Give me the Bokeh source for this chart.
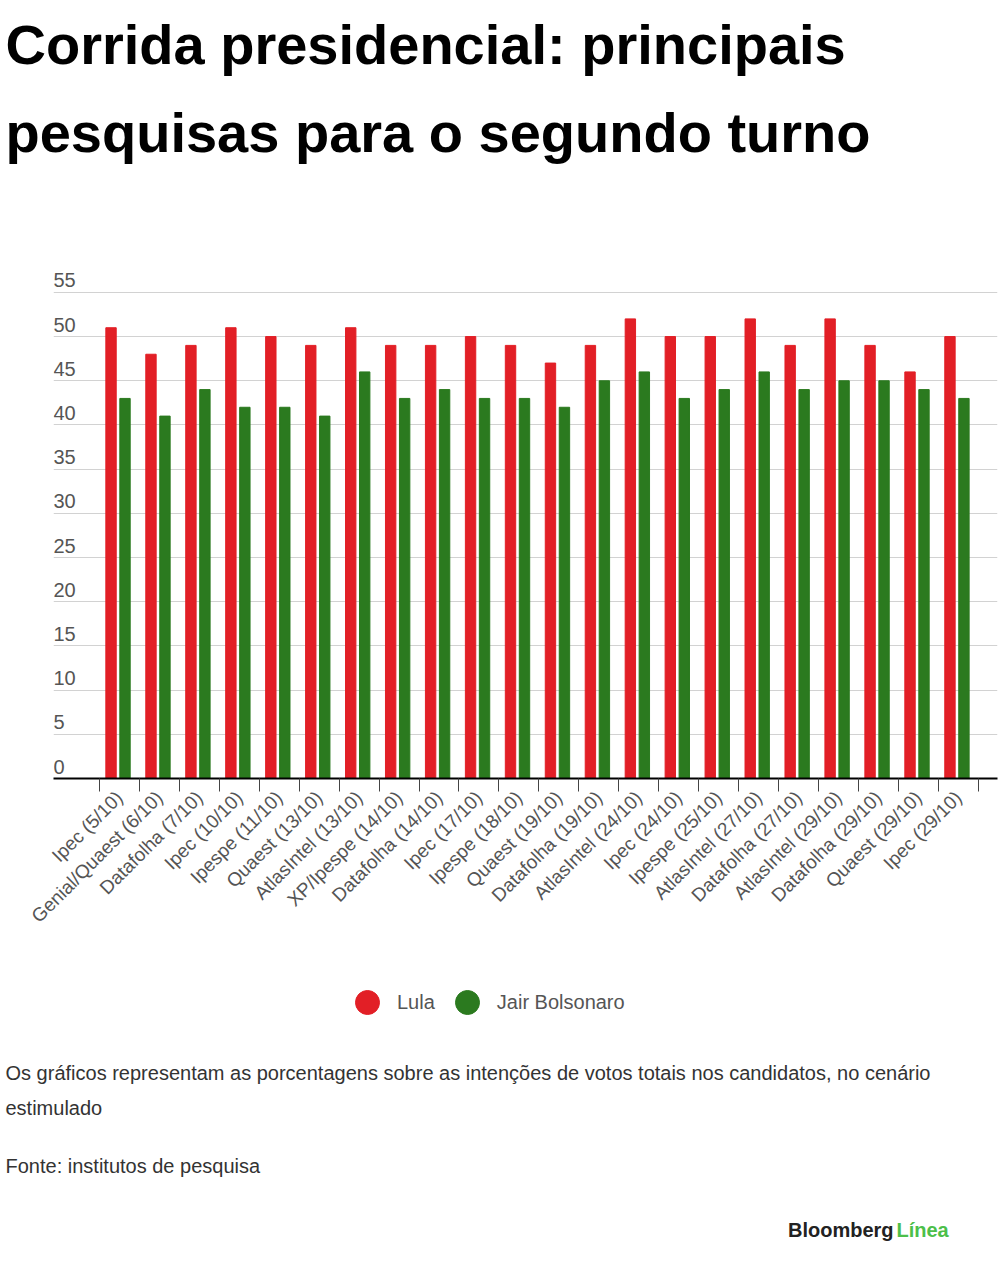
import numpy as np
from bokeh.plotting import figure
from bokeh.layouts import column
from bokeh.models import Range1d, FixedTicker, LinearAxis, Grid, Label, Legend, LegendItem
from bokeh.core.properties import value
from bokeh.embed import file_html
from bokeh.resources import INLINE

# poll institute (release date) and share of the votes, in %
POLLS = [
    "Ipec (5/10)", "Genial/Quaest (6/10)", "Datafolha (7/10)", "Ipec (10/10)",
    "Ipespe (11/10)", "Quaest (13/10)", "AtlasIntel (13/10)", "XP/Ipespe (14/10)",
    "Datafolha (14/10)", "Ipec (17/10)", "Ipespe (18/10)", "Quaest (19/10)",
    "Datafolha (19/10)", "AtlasIntel (24/10)", "Ipec (24/10)", "Ipespe (25/10)",
    "AtlasIntel (27/10)", "Datafolha (27/10)", "AtlasIntel (29/10)", "Datafolha (29/10)",
    "Quaest (29/10)", "Ipec (29/10)",
]
LULA = [51, 48, 49, 51, 50, 49, 51, 49, 49, 50, 49, 47, 49, 52, 50, 50, 52, 49, 52, 49, 46, 50]
BOLSONARO = [43, 41, 44, 42, 42, 41, 46, 43, 44, 43, 43, 42, 45, 46, 43, 44, 46, 44, 45, 45, 44, 43]
SERIES_NAMES = ["Lula", "Jair Bolsonaro"]
Y_TICKS = [0, 5, 10, 15, 20, 25, 30, 35, 40, 45, 50, 55]

TITLE_LINES = ["Corrida presidencial: principais", "pesquisas para o segundo turno"]
NOTE_LINES = [
    "Os gráficos representam as porcentagens sobre as intenções de votos totais nos candidatos, no cenário",
    "estimulado",
]
SOURCE = "Fonte: institutos de pesquisa"

RED = "#e21f26"
GREEN = "#2b7a1f"
FONT = "Liberation Sans"
W = 1000


def text_panel(height):
    """Blank figure whose data units are pixels, y counted from the top."""
    f = figure(width=W, height=height, x_range=Range1d(0, W), y_range=Range1d(height, 0),
               x_axis_location=None, y_axis_location=None,
               toolbar_location=None, output_backend="svg",
               min_border=0, frame_align=False)
    f.outline_line_color = None
    f.xgrid.visible = False
    f.ygrid.visible = False
    return f


# --- title
head = text_panel(268)
for text, y in zip(TITLE_LINES, [44, 132]):
    head.add_layout(Label(x=5, y=y, text=text, text_font=FONT, text_font_style="bold",
                          text_font_size="56px", text_color="black",
                          text_baseline="middle"))

# --- bar chart
idx = np.arange(len(POLLS))

p = figure(width=W, height=692,
           x_range=Range1d(-1.65, 21.98), y_range=Range1d(0, 57.7),
           x_axis_location=None, y_axis_location=None,
           toolbar_location=None, output_backend="svg",
           min_border_left=53, min_border_right=3,
           min_border_top=0, min_border_bottom=182, frame_align=False)
p.outline_line_color = None
p.xgrid.visible = False
p.ygrid.visible = False

p.add_layout(Grid(dimension=1, ticker=FixedTicker(ticks=Y_TICKS[1:]),
                  grid_line_color="#d2d2d2", grid_line_width=1))

# y labels sit above the grid lines, inside the plot
p.text(x=[p.x_range.start] * len(Y_TICKS), y=Y_TICKS, text=[str(t) for t in Y_TICKS],
       text_font=value(FONT), text_font_size="20px", text_color="#555555",
       text_baseline="middle", text_align="left", y_offset=-12)

p.vbar(x=idx - 0.21, top=LULA, width=0.26, color=RED)
p.vbar(x=idx + 0.14, top=BOLSONARO, width=0.26, color=GREEN)

xaxis = LinearAxis(
    ticker=FixedTicker(ticks=[int(i) for i in idx],
                       minor_ticks=[float(i) - 0.5 for i in idx] + [float(idx[-1]) + 0.5]),
    major_label_overrides={int(i): name for i, name in zip(idx, POLLS)},
    major_label_orientation=np.pi / 4,
    major_label_text_font=FONT, major_label_text_font_size="19px",
    major_label_text_color="#555555", major_label_standoff=3,
    major_tick_line_color=None, major_tick_in=0, major_tick_out=0,
    minor_tick_in=0, minor_tick_out=13,
    minor_tick_line_color="#444444", minor_tick_line_width=1,
    axis_line_color="black", axis_line_width=2,
)
p.add_layout(xaxis, "below")

# --- legend, notes and logo
foot = text_panel(318)
# legend keys only: one hidden (NaN) point each so the legend draws a round swatch
keys = [foot.scatter(x=[float("nan")], y=[float("nan")], marker="circle", color=c)
        for c in (RED, GREEN)]
legend = Legend(items=[LegendItem(label=n, renderers=[k]) for n, k in zip(SERIES_NAMES, keys)],
                orientation="horizontal", location=(337, 244),
                glyph_width=60, glyph_height=64, label_standoff=0, spacing=2,
                padding=0, margin=0, border_line_color=None, background_fill_alpha=0,
                label_text_font=FONT, label_text_font_size="20px",
                label_text_color="#555555")
foot.add_layout(legend)

for text, y in zip(NOTE_LINES + [SOURCE], [112, 147, 205]):
    foot.add_layout(Label(x=5, y=y, text=text, text_font=FONT, text_font_size="20px",
                          text_color="#333333", text_baseline="middle"))

foot.add_layout(Label(x=893, y=269, text="Bloomberg", text_font=FONT, text_font_style="bold",
                      text_font_size="20px", text_color="#222222", text_align="right",
                      text_baseline="middle"))
foot.add_layout(Label(x=896, y=269, text="Línea", text_font=FONT, text_font_style="bold",
                      text_font_size="20px", text_color="#4cbf4a", text_align="left",
                      text_baseline="middle"))

layout = column(head, p, foot, spacing=0)
open("out.html", "w").write(file_html(layout, INLINE))
